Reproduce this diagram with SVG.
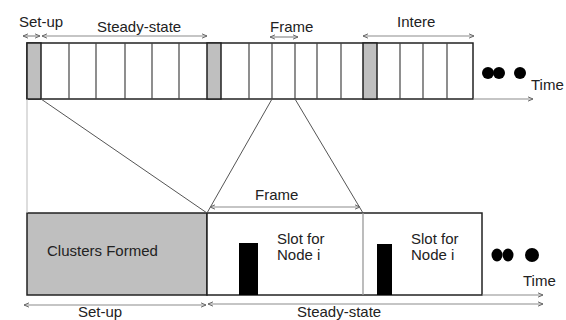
<svg xmlns="http://www.w3.org/2000/svg" width="566" height="320" viewBox="0 0 566 320">
  <style>
    text { font-family: "Liberation Sans", Arial, sans-serif; font-size: 15px; fill: #222; }
    .bar { fill: #fff; stroke: #222; stroke-width: 1.5; }
    .setup { fill: #bfbfbf; stroke: #222; stroke-width: 1.5; }
    .div { stroke: #444; stroke-width: 1.2; }
    .span { stroke: #8c8c8c; stroke-width: 1.2; fill: none; marker-start: url(#tip); marker-end: url(#tip); }
    .axis { stroke: #8c8c8c; stroke-width: 1.2; fill: none; marker-end: url(#tip); }
    .zoom { stroke: #555; stroke-width: 1; fill: none; }
    .dot { fill: #000; }
  </style>
  <defs>
    <marker id="tip" viewBox="0 0 8 8" refX="7" refY="4" markerWidth="6" markerHeight="6" orient="auto-start-reverse" markerUnits="userSpaceOnUse">
      <path d="M0,1 L7,4 L0,7" fill="none" stroke="#666" stroke-width="1.3"/>
    </marker>
  </defs>

  <!-- rounds along the time axis -->
  <g id="rounds">
    <rect class="bar" x="27" y="43" width="446" height="56"/>
    <rect class="setup" x="27" y="43" width="14" height="56"/>
    <rect class="setup" x="207" y="43" width="14" height="56"/>
    <rect class="setup" x="363" y="43" width="14" height="56"/>
    <g class="div">
      <line x1="69" y1="43" x2="69" y2="99"/>
      <line x1="96" y1="43" x2="96" y2="99"/>
      <line x1="125" y1="43" x2="125" y2="99"/>
      <line x1="152" y1="43" x2="152" y2="99"/>
      <line x1="179" y1="43" x2="179" y2="99"/>
      <line x1="249" y1="43" x2="249" y2="99"/>
      <line x1="272" y1="43" x2="272" y2="99"/>
      <line x1="295" y1="43" x2="295" y2="99"/>
      <line x1="317" y1="43" x2="317" y2="99"/>
      <line x1="341" y1="43" x2="341" y2="99"/>
      <line x1="400" y1="43" x2="400" y2="99"/>
      <line x1="423" y1="43" x2="423" y2="99"/>
      <line x1="447" y1="43" x2="447" y2="99"/>
    </g>
    <circle class="dot" cx="488" cy="73" r="6"/>
    <circle class="dot" cx="499" cy="73" r="6"/>
    <circle class="dot" cx="520" cy="73" r="6"/>
  </g>

  <!-- one round in detail -->
  <g id="round-detail">
    <rect class="setup" x="27" y="213" width="180" height="82"/>
    <rect class="bar" x="207" y="213" width="275" height="82"/>
    <line x1="363" y1="213" x2="363" y2="295" stroke="#999" stroke-width="1.3"/>
    <text x="47" y="256">Clusters Formed</text>
  </g>

  <g id="slot-1">
    <rect x="239" y="243" width="19" height="52" fill="#000"/>
    <text x="277" y="244">Slot for</text>
    <text x="277" y="260">Node i</text>
  </g>

  <g id="slot-2">
    <rect x="377" y="244" width="15" height="51" fill="#000"/>
    <text x="411" y="244">Slot for</text>
    <text x="411" y="260">Node i</text>
  </g>

  <g id="more-rounds">
    <ellipse class="dot" cx="497" cy="255" rx="5.5" ry="6.5"/>
    <ellipse class="dot" cx="508" cy="255" rx="5.5" ry="6.5"/>
    <circle class="dot" cx="532" cy="255" r="7"/>
  </g>

  <!-- labels -->
  <g id="labels">
    <text x="19" y="27">Set-up</text>
    <text x="97" y="32">Steady-state</text>
    <text x="270" y="32">Frame</text>
    <text x="397" y="27">Intere</text>
    <text x="531" y="90">Time</text>
    <text x="255" y="200">Frame</text>
    <text x="523" y="286">Time</text>
    <text x="78" y="316.5">Set-up</text>
    <text x="297" y="316.5">Steady-state</text>
  </g>

  <!-- connectors -->
  <g id="connectors">
    <line class="span" x1="23" y1="36" x2="40" y2="36"/>
    <line class="span" x1="42" y1="36" x2="207" y2="36"/>
    <line class="span" x1="270" y1="37" x2="298" y2="37"/>
    <line class="span" x1="363" y1="36" x2="474" y2="36"/>
    <line class="axis" x1="473" y1="99" x2="533" y2="99"/>

    <line x1="27" y1="99" x2="27" y2="213" stroke="#bbb" stroke-width="1"/>
    <line class="zoom" x1="41" y1="99" x2="207" y2="213"/>
    <line class="zoom" x1="272" y1="99" x2="207" y2="213"/>
    <line class="zoom" x1="295" y1="99" x2="363" y2="213"/>

    <line class="span" x1="210" y1="207" x2="360" y2="207"/>
    <line class="axis" x1="482" y1="295" x2="543" y2="295"/>
    <line class="span" x1="24" y1="305" x2="206" y2="305"/>
    <line class="axis" x1="208" y1="304" x2="543" y2="304" marker-start="url(#tip)"/>
  </g>
</svg>
